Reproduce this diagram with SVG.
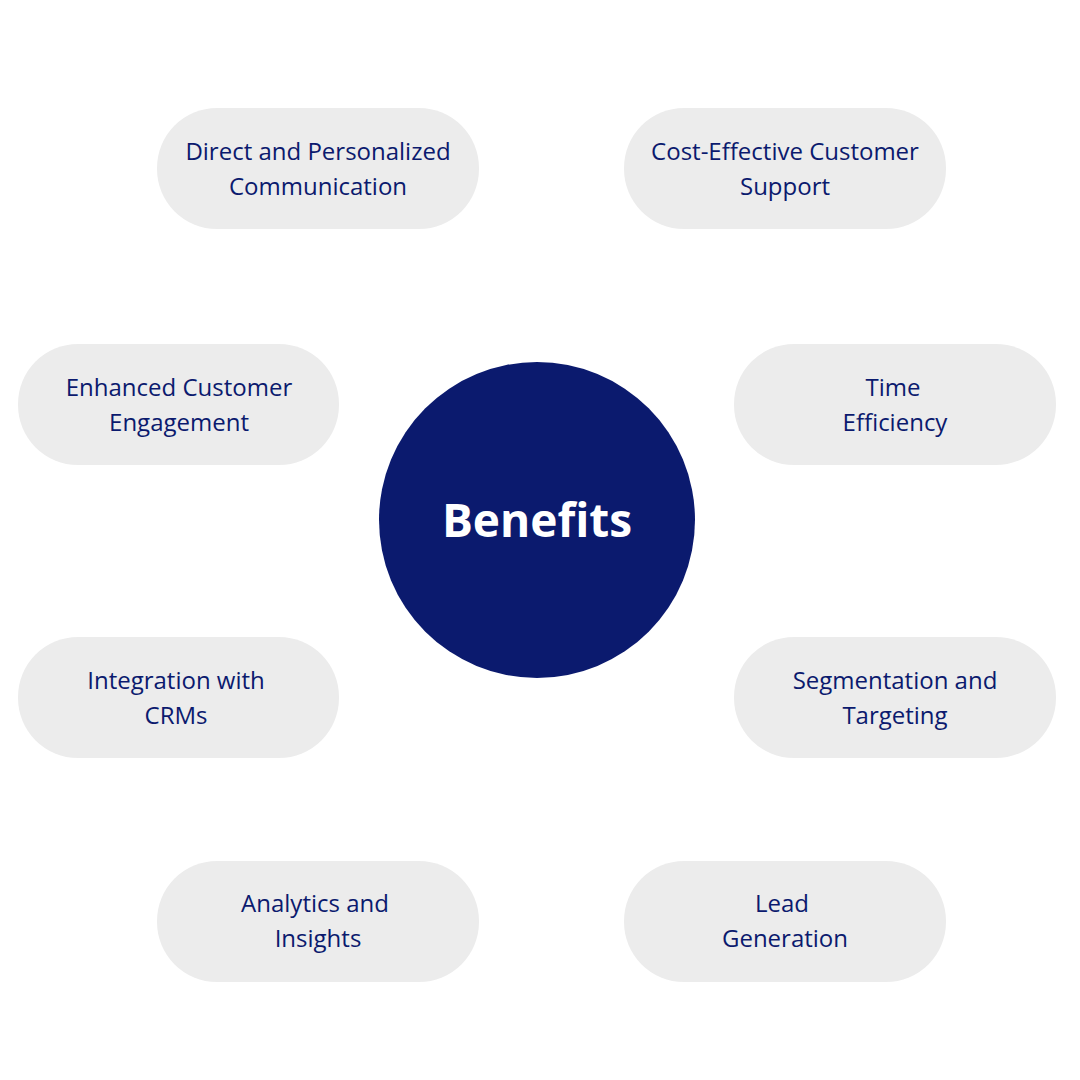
<svg xmlns="http://www.w3.org/2000/svg" width="1080" height="1080" viewBox="0 0 1080 1080">
<style>
.p{fill:#ececec}
.t{font-family:"Open Sans","Liberation Sans",sans-serif;font-size:24px;fill:#0b1a6e;text-anchor:middle}
.c{font-family:"Open Sans","Liberation Sans",sans-serif;font-size:46px;font-weight:bold;fill:#ffffff;text-anchor:middle}
</style>
<rect width="1080" height="1080" fill="#ffffff"/>
<g id="center"><circle cx="537" cy="520" r="158" fill="#0b1a6e"/><text class="c" x="537" y="537">Benefits</text></g>
<g id="n1"><rect class="p" x="157" y="108" width="322" height="121" rx="60"/><text class="t" x="318" y="160">Direct and Personalized</text><text class="t" x="318" y="195">Communication</text></g>
<g id="n2"><rect class="p" x="624" y="108" width="322" height="121" rx="60"/><text class="t" x="785" y="160">Cost-Effective Customer</text><text class="t" x="785" y="195">Support</text></g>
<g id="n3"><rect class="p" x="18" y="344" width="321" height="121" rx="60"/><text class="t" x="179" y="396">Enhanced Customer</text><text class="t" x="179" y="431">Engagement</text></g>
<g id="n4"><rect class="p" x="734" y="344" width="322" height="121" rx="60"/><text class="t" x="893" y="396">Time</text><text class="t" x="895" y="431">Efficiency</text></g>
<g id="n5"><rect class="p" x="18" y="637" width="321" height="121" rx="60"/><text class="t" x="176" y="689">Integration with</text><text class="t" x="176" y="724">CRMs</text></g>
<g id="n6"><rect class="p" x="734" y="637" width="322" height="121" rx="60"/><text class="t" x="895" y="689">Segmentation and</text><text class="t" x="895" y="724">Targeting</text></g>
<g id="n7"><rect class="p" x="157" y="861" width="322" height="121" rx="60"/><text class="t" x="315" y="912">Analytics and</text><text class="t" x="318" y="947">Insights</text></g>
<g id="n8"><rect class="p" x="624" y="861" width="322" height="121" rx="60"/><text class="t" x="782" y="912">Lead</text><text class="t" x="785" y="947">Generation</text></g>
<g id="connectors"></g>
</svg>
